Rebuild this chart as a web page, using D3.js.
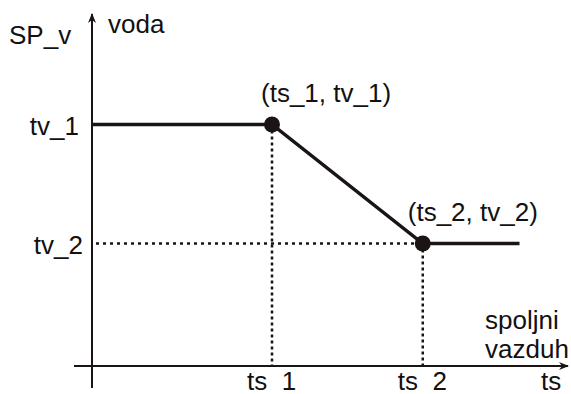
<!DOCTYPE html>
<html>
<head>
<meta charset="utf-8">
<script src="https://cdn.jsdelivr.net/npm/d3@7"></script>
<style>
  body { margin: 0; background: #fff; }
  text { font-family: Arial, "Liberation Sans", sans-serif; fill: #111; }
</style>
</head>
<body>
<div id="chart"></div>
<script>
// setpoint curve: outside temp (ts) -> water temp (tv)
var tsValues = [0, 4, 7.35, 9.5];
var tvValues = [6.9, 6.9, 3.5, 3.5];
var breakTs = [4, 7.35];
var breakTv = [6.9, 3.5];
var breakLabels = ["(ts_1, tv_1)", "(ts_2, tv_2)"];
var xTickLabels = ["ts_1", "ts_2"];
var yTickLabels = ["tv_1", "tv_2"];

var width = 571, height = 394;
var svg = d3.select('#chart').append('svg')
    .attr('width', width).attr('height', height);

var x = d3.scaleLinear().domain([0, 10]).range([92, 542]);
var y = d3.scaleLinear().domain([0, 10]).range([366, 16]);
var ink = '#1a1414';

var defs = svg.append('defs');
defs.append('marker')
    .attr('id', 'arrow')
    .attr('viewBox', '0 0 10 10')
    .attr('refX', 9).attr('refY', 5)
    .attr('markerWidth', 10).attr('markerHeight', 10)
    .attr('markerUnits', 'userSpaceOnUse')
    .attr('orient', 'auto')
  .append('path')
    .attr('d', 'M0,1 L10,5 L0,9 L3,5 Z')
    .attr('fill', ink);
defs.append('clipPath').attr('id', 'cut')
  .append('rect').attr('x', 0).attr('y', 0).attr('width', width).attr('height', 391);

// axes
svg.append('line')
    .attr('x1', x(0)).attr('y1', 388).attr('x2', x(0)).attr('y2', 14)
    .attr('stroke', ink).attr('stroke-width', 2)
    .attr('marker-end', 'url(#arrow)');
svg.append('line')
    .attr('x1', 74).attr('y1', y(0)).attr('x2', 568).attr('y2', y(0))
    .attr('stroke', ink).attr('stroke-width', 2)
    .attr('marker-end', 'url(#arrow)');

// dotted guides
var pts = breakTs.map(function(d, i) { return {ts: d, tv: breakTv[i]}; });
svg.selectAll('.vguide').data(pts).enter().append('line')
    .attr('x1', function(d) { return x(d.ts); })
    .attr('x2', function(d) { return x(d.ts); })
    .attr('y1', function(d) { return y(d.tv); })
    .attr('y2', y(0))
    .attr('stroke', ink).attr('stroke-width', 2.5)
    .attr('stroke-dasharray', '3,3');
svg.append('line')
    .attr('x1', x(0) + 4).attr('x2', x(breakTs[1]))
    .attr('y1', y(breakTv[1])).attr('y2', y(breakTv[1]))
    .attr('stroke', ink).attr('stroke-width', 2.5)
    .attr('stroke-dasharray', '3,4');

// curve
var line = d3.line()
    .x(function(d) { return x(d[0]); })
    .y(function(d) { return y(d[1]); });
svg.append('path')
    .datum(d3.zip(tsValues, tvValues))
    .attr('d', line)
    .attr('fill', 'none')
    .attr('stroke', ink)
    .attr('stroke-width', 3.5);

svg.selectAll('.dot').data(pts).enter().append('circle')
    .attr('cx', function(d) { return x(d.ts); })
    .attr('cy', function(d) { return y(d.tv); })
    .attr('r', 8)
    .attr('fill', ink);

// labels
var fs = '26px';
svg.selectAll('.blabel').data(pts).enter().append('text')
    .attr('x', function(d, i) { return x(d.ts) + (i == 0 ? -11 : -15); })
    .attr('y', function(d) { return y(d.tv) - 23; })
    .attr('font-size', fs)
    .text(function(d, i) { return breakLabels[i]; });

svg.selectAll('.ylab').data(breakTv).enter().append('text')
    .attr('x', function(d, i) { return i == 0 ? 79 : 83; })
    .attr('y', function(d) { return y(d) + 10; })
    .attr('text-anchor', 'end')
    .attr('font-size', fs)
    .text(function(d, i) { return yTickLabels[i]; });

svg.selectAll('.xlab').data(breakTs).enter().append('text')
    .attr('x', function(d) { return x(d) - 25; })
    .attr('y', 390)
    .attr('font-size', fs)
    .attr('clip-path', 'url(#cut)')
    .text(function(d, i) { return xTickLabels[i]; });

svg.append('text').attr('x', 541).attr('y', 390).attr('font-size', fs).text('ts');
svg.append('text').attr('x', 9).attr('y', 44).attr('font-size', fs).text('SP_v');
svg.append('text').attr('x', 108).attr('y', 33).attr('font-size', fs).text('voda');
svg.append('text').attr('x', 485).attr('y', 329).attr('font-size', fs).text('spoljni');
svg.append('text').attr('x', 485).attr('y', 358).attr('font-size', fs).text('vazduh');
</script>
</body>
</html>
